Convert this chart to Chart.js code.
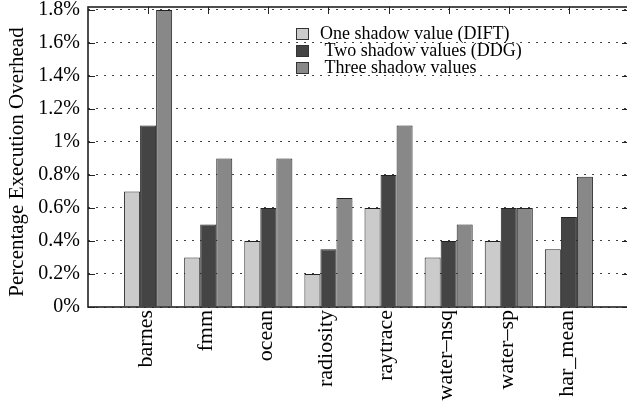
<!DOCTYPE html>
<html>
<head>
<meta charset="utf-8">
<script src="https://cdn.jsdelivr.net/npm/chart.js@4/dist/chart.umd.min.js"></script>
<style>
  html, body { margin: 0; padding: 0; background: #fff; overflow: hidden; }
  #wrap { width: 640px; height: 403px; position: relative; }
</style>
</head>
<body>
<div id="wrap"><canvas id="c" width="640" height="403"></canvas></div>
<script>
// Benchmarks and measured overheads (percent)
const categories = ['barnes', 'fmm', 'ocean', 'radiosity', 'raytrace', 'water\u2013nsq', 'water\u2013sp', 'har_mean'];
const oneShadow   = [0.70, 0.30, 0.40, 0.20, 0.60, 0.30, 0.40, 0.35];
const twoShadow   = [1.10, 0.50, 0.60, 0.35, 0.80, 0.40, 0.60, 0.545];
const threeShadow = [1.80, 0.90, 0.90, 0.66, 1.10, 0.50, 0.60, 0.79];
const seriesNames = ['One shadow value (DIFT)', ' Two shadow values (DDG)', ' Three shadow values'];
const yTickValues = [0, 0.2, 0.4, 0.6, 0.8, 1.0, 1.2, 1.4, 1.6, 1.8];
const yTickLabels = ['0%', '0.2%', '0.4%', '0.6%', '0.8%', '1%', '1.2%', '1.4%', '1.6%', '1.8%'];
const yTitle = 'Percentage Execution Overhead';

const SERIF = "'Liberation Serif', 'DejaVu Serif', serif";
const fills = ['#cbcbcb', '#444444', '#888888'];

// one empty slot on each side of the benchmarks
const xLabels = [''].concat(categories, ['']);
const pad = arr => [null].concat(arr, [null]);

// keep the plot frame at a fixed place regardless of label overhang
function noOverhang(scale) {
  scale.paddingTop = 0; scale.paddingBottom = 0;
  scale.paddingLeft = 0; scale.paddingRight = 0;
}

const decor = {
  id: 'decor',
  afterDatasetsDraw(chart) {
    const { ctx, chartArea: a, scales: { x, y } } = chart;
    ctx.save();
    ctx.strokeStyle = '#222';
    ctx.lineWidth = 1;
    const seg = (x1, y1, x2, y2) => { ctx.beginPath(); ctx.moveTo(x1, y1); ctx.lineTo(x2, y2); ctx.stroke(); };
    // y tick marks on both sides
    yTickValues.forEach(v => {
      const py = Math.round(y.getPixelForValue(v)) + 0.5;
      seg(a.left, py, a.left + 7, py);
      seg(a.right - 7, py, a.right, py);
    });
    // mirrored category ticks along the top
    categories.forEach((c, i) => {
      const px = Math.round(x.getPixelForValue(i + 1)) + 0.5;
      seg(px, a.top, px, a.top + 7);
    });
    // frame
    ctx.lineWidth = 1.6;
    ctx.strokeRect(a.left, a.top, a.right - a.left, a.bottom - a.top);

    // y axis title
    ctx.fillStyle = '#000';
    ctx.font = '21px ' + SERIF;
    ctx.textAlign = 'center';
    ctx.textBaseline = 'middle';
    ctx.save();
    ctx.translate(17, (a.top + a.bottom) / 2 + 5);
    ctx.rotate(-Math.PI / 2);
    ctx.fillText(yTitle, 0, 0);
    ctx.restore();

    // legend
    const rows = [34, 51, 68];
    ctx.font = '18px ' + SERIF;
    ctx.textAlign = 'left';
    seriesNames.forEach((name, i) => {
      const cy = rows[i];
      ctx.fillStyle = fills[i];
      ctx.fillRect(296, cy - 6, 13, 12);
      ctx.lineWidth = 1;
      ctx.strokeStyle = '#333';
      ctx.strokeRect(296.5, cy - 5.5, 12, 11);
      ctx.fillStyle = '#000';
      ctx.fillText(name, 320, cy);
    });
    ctx.restore();
  }
};

new Chart(document.getElementById('c'), {
  type: 'bar',
  data: {
    labels: xLabels,
    datasets: [
      { label: seriesNames[0], data: pad(oneShadow),   backgroundColor: fills[0] },
      { label: seriesNames[1], data: pad(twoShadow),   backgroundColor: fills[1] },
      { label: seriesNames[2], data: pad(threeShadow), backgroundColor: fills[2] }
    ].map(d => Object.assign(d, { borderColor: '#222', borderWidth: 1, categoryPercentage: 0.8, barPercentage: 1.0 }))
  },
  options: {
    responsive: false,
    animation: false,
    layout: { autoPadding: false, padding: { top: 7, right: 11, left: 0, bottom: 0 } },
    plugins: { legend: { display: false }, tooltip: { enabled: false } },
    scales: {
      x: {
        offset: false,
        grid: { display: false, drawTicks: false },
        border: { display: false },
        ticks: {
          autoSkip: false, maxRotation: 90, minRotation: 90, padding: 3, labelOffset: -2,
          color: '#000', font: { family: SERIF, size: 22 }
        },
        afterFit(scale) { scale.height = 96; noOverhang(scale); }
      },
      y: {
        min: 0, max: 1.818,
        grid: { color: '#444', lineWidth: 1, drawTicks: false },
        border: { display: false, dash: [2, 6] },
        afterBuildTicks(scale) { scale.ticks = yTickValues.map(v => ({ value: v })); },
        ticks: {
          padding: 8, color: '#000', font: { family: SERIF, size: 20 },
          callback(value) { const i = yTickValues.findIndex(t => Math.abs(t - value) < 1e-6); return i >= 0 ? yTickLabels[i] : ''; }
        },
        afterFit(scale) { scale.width = 88; noOverhang(scale); }
      }
    }
  },
  plugins: [decor]
});
</script>
</body>
</html>
